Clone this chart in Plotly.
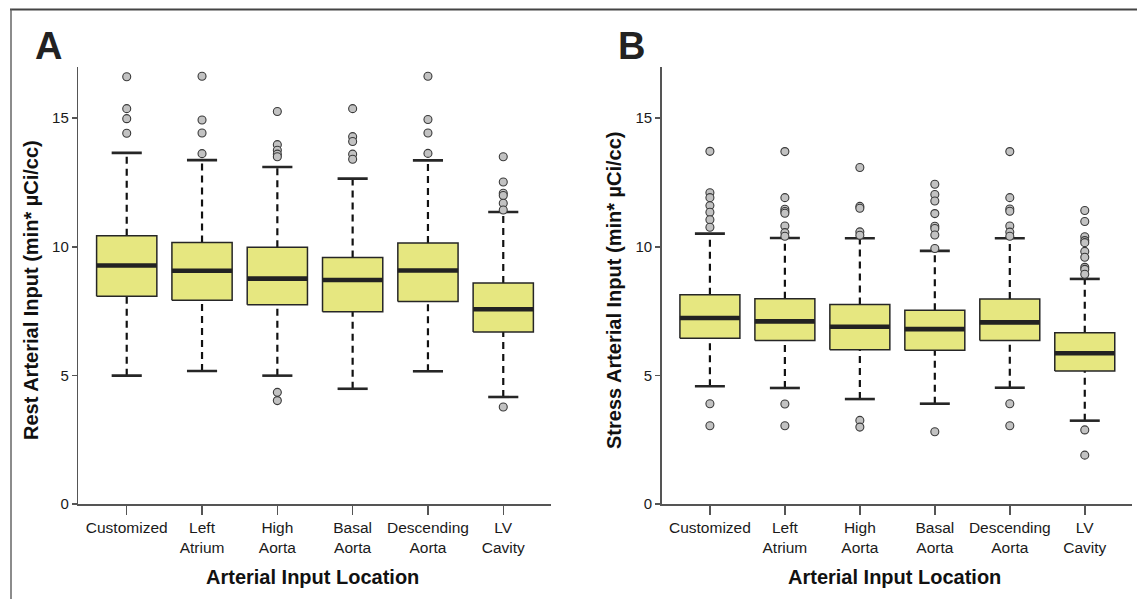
import plotly.graph_objects as go

# ---------------- data ----------------
categories = ["Customized", "Left Atrium", "High Aorta", "Basal Aorta", "Descending Aorta", "LV Cavity"]
tick_labels = ["Customized", "Left<br>Atrium", "High<br>Aorta", "Basal<br>Aorta", "Descending<br>Aorta", "LV<br>Cavity"]

rest_low = [4.99, 5.17, 4.99, 4.48, 5.16, 4.16]
rest_q1 = [8.08, 7.92, 7.75, 7.47, 7.87, 6.69]
rest_median = [9.27, 9.07, 8.76, 8.71, 9.08, 7.57]
rest_q3 = [10.43, 10.17, 9.98, 9.58, 10.15, 8.59]
rest_high = [13.65, 13.37, 13.10, 12.65, 13.36, 11.35]
rest_outliers = [
    [16.61, 15.37, 14.98, 14.41],
    [16.63, 14.93, 14.42, 13.62],
    [15.26, 13.97, 13.75, 13.60, 13.50, 4.34, 4.02],
    [15.37, 14.28, 14.09, 13.60, 13.40],
    [16.63, 14.95, 14.42, 13.63],
    [13.50, 12.52, 12.08, 11.99, 11.69, 11.43, 3.77],
]

stress_low = [4.58, 4.51, 4.08, 3.90, 4.52, 3.24]
stress_q1 = [6.44, 6.36, 6.00, 5.98, 6.36, 5.17]
stress_median = [7.23, 7.10, 6.89, 6.80, 7.06, 5.86]
stress_q3 = [8.13, 7.98, 7.76, 7.53, 7.97, 6.66]
stress_high = [10.51, 10.34, 10.33, 9.84, 10.33, 8.75]
stress_outliers = [
    [13.71, 12.10, 11.91, 11.60, 11.34, 11.05, 10.76, 3.90, 3.04],
    [13.70, 11.91, 11.46, 11.37, 11.30, 10.81, 10.55, 10.41, 3.89, 3.04],
    [13.08, 11.57, 11.50, 10.58, 10.45, 3.25, 2.99],
    [12.43, 12.03, 11.78, 11.29, 10.80, 10.71, 10.46, 9.93, 2.81],
    [13.70, 11.91, 11.47, 11.38, 10.81, 10.57, 10.41, 3.90, 3.04],
    [11.41, 10.98, 10.39, 10.24, 10.16, 9.82, 9.59, 9.20, 9.12, 8.93, 2.88, 1.90],
]

y_ticks = [0, 5, 10, 15]

# ---------------- style ----------------
FONT = "Liberation Sans, Arial, Helvetica, sans-serif"
BOX_FILL = "rgb(230,231,128)"
EDGE = "#262626"
BOX_HALF = 0.4
CAP_HALF = 0.2

fig = go.Figure()


def add_panel(low, q1, med, q3, high, outliers, xref, yref):
    pos = list(range(1, len(categories) + 1))
    # whiskers (dashed)
    wx, wy = [], []
    for p, lo, a, b, hi in zip(pos, low, q1, q3, high):
        wx += [p, p, None, p, p, None]
        wy += [lo, a, None, b, hi, None]
    fig.add_trace(go.Scatter(x=wx, y=wy, mode="lines", xaxis=xref, yaxis=yref,
                             line=dict(color="#111111", width=2.2, dash="7px,5px"),
                             hoverinfo="skip", showlegend=False))
    # caps
    cx, cy = [], []
    for p, lo, hi in zip(pos, low, high):
        cx += [p - CAP_HALF, p + CAP_HALF, None, p - CAP_HALF, p + CAP_HALF, None]
        cy += [lo, lo, None, hi, hi, None]
    fig.add_trace(go.Scatter(x=cx, y=cy, mode="lines", xaxis=xref, yaxis=yref,
                             line=dict(color=EDGE, width=2.6),
                             hoverinfo="skip", showlegend=False))
    # boxes
    for p, a, b in zip(pos, q1, q3):
        fig.add_trace(go.Scatter(
            x=[p - BOX_HALF, p + BOX_HALF, p + BOX_HALF, p - BOX_HALF, p - BOX_HALF],
            y=[a, a, b, b, a], mode="lines", fill="toself", fillcolor=BOX_FILL,
            xaxis=xref, yaxis=yref, line=dict(color=EDGE, width=1.5),
            hoverinfo="skip", showlegend=False))
    # medians
    mx, my = [], []
    for p, m in zip(pos, med):
        mx += [p - BOX_HALF, p + BOX_HALF, None]
        my += [m, m, None]
    fig.add_trace(go.Scatter(x=mx, y=my, mode="lines", xaxis=xref, yaxis=yref,
                             line=dict(color="#222222", width=4.6),
                             hoverinfo="skip", showlegend=False))
    # outliers
    ox, oy = [], []
    for p, outs in zip(pos, outliers):
        ox += [p] * len(outs)
        oy += outs
    fig.add_trace(go.Scatter(x=ox, y=oy, mode="markers", xaxis=xref, yaxis=yref,
                             marker=dict(size=8, color="#c2c2c2",
                                         line=dict(color="#3a3a3a", width=1.1)),
                             hoverinfo="skip", showlegend=False))


add_panel(rest_low, rest_q1, rest_median, rest_q3, rest_high, rest_outliers, "x", "y")
add_panel(stress_low, stress_q1, stress_median, stress_q3, stress_high, stress_outliers, "x2", "y2")

W, H = 1137, 599
ydom = [(H - 504) / H, (H - 66.7) / H]
xaxis_common = dict(range=[0.357, 6.63], tickmode="array", tickvals=list(range(1, 7)),
                    ticktext=tick_labels, showline=True, linecolor="#555555", linewidth=1.5,
                    ticks="outside", ticklen=9, tickwidth=1.5, tickcolor="#555555",
                    showgrid=False, zeroline=False, automargin=False,
                    tickfont=dict(family=FONT, size=15.5, color="#1a1a1a"))
yaxis_common = dict(range=[0, 17], tickmode="array", tickvals=y_ticks,
                    showline=True, linecolor="#555555", linewidth=1.5,
                    ticks="outside", ticklen=5, tickwidth=1.5, tickcolor="#555555",
                    showgrid=False, zeroline=False, automargin=False, domain=ydom,
                    tickfont=dict(family=FONT, size=15, color="#1a1a1a"))

fig.update_layout(
    width=W, height=H,
    margin=dict(l=0, r=0, t=0, b=0),
    paper_bgcolor="white", plot_bgcolor="white",
    xaxis=dict(domain=[78.3 / W, 550.7 / W], anchor="y", **xaxis_common),
    yaxis=dict(anchor="x", **yaxis_common),
    xaxis2=dict(domain=[661.7 / W, 1132 / W], anchor="y2", **xaxis_common),
    yaxis2=dict(anchor="x2", **yaxis_common),
    showlegend=False,
)

# frame lines (figure border)
fig.add_shape(type="line", xref="paper", yref="paper", x0=10 / W, x1=1.0,
              y0=(H - 9.5) / H, y1=(H - 9.5) / H, line=dict(color="#444444", width=2))
fig.add_shape(type="line", xref="paper", yref="paper", x0=11 / W, x1=11 / W,
              y0=0, y1=(H - 9.5) / H, line=dict(color="#666666", width=1.5))

title_font = dict(family=FONT, size=20, color="#111111")
annotations = [
    dict(text="<b>A</b>", x=48.7 / W, y=(H - 46) / H, font=dict(family=FONT, size=38, color="#222222")),
    dict(text="<b>B</b>", x=631 / W, y=(H - 46) / H, font=dict(family=FONT, size=38, color="#222222")),
    dict(text="<b>Rest Arterial Input (min* µCi/cc)</b>", x=31 / W, y=(H - 290) / H,
         textangle=-90, font=title_font),
    dict(text="<b>Stress Arterial Input (min* µCi/cc)</b>", x=614 / W, y=(H - 290) / H,
         textangle=-90, font=title_font),
    dict(text="<b>Arterial Input Location</b>", x=312 / W, y=(H - 576.5) / H, font=title_font),
    dict(text="<b>Arterial Input Location</b>", x=894 / W, y=(H - 576.5) / H, font=title_font),
]
for a in annotations:
    fig.add_annotation(xref="paper", yref="paper", showarrow=False,
                       xanchor="center", yanchor="middle", **a)

fig.write_html("out.html",
               config={"displayModeBar": False, "staticPlot": True},
               post_script="document.body.style.margin='0px';document.body.style.overflow='hidden';")
